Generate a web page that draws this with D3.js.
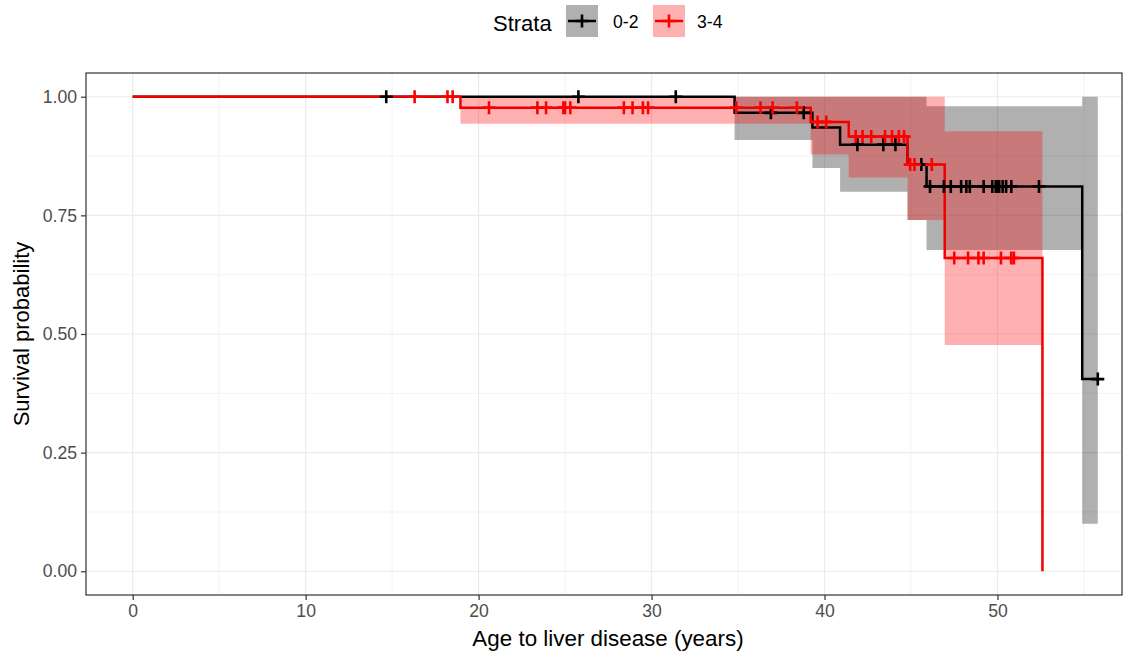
<!DOCTYPE html>
<html>
<head>
<meta charset="utf-8">
<script src="https://cdn.jsdelivr.net/npm/d3@7"></script>
<style>
    body { margin: 0; background: #ffffff; }
    text { font-family: "Liberation Sans", Arial, sans-serif; }
</style>
</head>
<body>
<div class="kmDiv"></div>
<script>
"use strict"

// strata
var strataNames = ["0-2", "3-4"];
var strataColors = ["#000000", "#ee0000"];

// stratum 0-2 : step times, survival, confidence band
var timesA = [0, 34.8, 39.3, 40.9, 44.8, 45.9, 54.9];
var survA  = [1, 0.966, 0.935, 0.899, 0.857, 0.811, 0.405];
var upperA = [1, 1, 1, 1, 1, 0.98, 1];
var lowerA = [1, 0.909, 0.85, 0.80, 0.74, 0.677, 0.10];
var lastA  = 55.8;
var censorA = [14.66, 25.77, 31.4, 36.9, 38.8, 41.9, 43.4, 44.1, 45.6, 46.1, 46.9, 47.3, 47.9,
               48.2, 48.4, 49.2, 49.7, 49.9, 50.0, 50.1, 50.3, 50.5, 50.8, 52.4, 55.8];

// stratum 3-4
var timesB = [0, 18.95, 39.2, 41.4, 44.8, 46.95, 52.6];
var survB  = [1, 0.977, 0.947, 0.916, 0.857, 0.66, 0];
var upperB = [1, 1, 1, 1, 1, 0.927, null];
var lowerB = [1, 0.943, 0.878, 0.83, 0.74, 0.477, null];
var lastB  = 52.6;
var censorB = [16.3, 18.2, 18.5, 20.6, 23.4, 23.9, 24.9, 25.0, 25.3, 28.4, 28.9, 29.5, 29.8,
               34.9, 36.3, 37.0, 38.4, 39.6, 40.1, 41.8, 42.2, 42.7, 43.5, 43.9, 44.3, 44.6,
               44.95, 45.2, 46.2, 47.5, 48.3, 48.9, 49.2, 50.2, 50.8, 50.95];

var xTicks = [0, 10, 20, 30, 40, 50];
var xMinor = [5, 15, 25, 35, 45, 55];
var yTicks = [0, 0.25, 0.5, 0.75, 1];
var yMinor = [0.125, 0.375, 0.625, 0.875];

var width = 1130;
var height = 659;
var panel = {left: 86, top: 73, right: 1122, bottom: 595};
var lineW = 2.5;
var plusR = 6.5;

var svgContainer = d3.select(".kmDiv").append("svg")
                        .attr("width", width)
                        .attr("height", height);

var x = d3.scaleLinear().domain([-2.7, 57.2]).range([panel.left, panel.right]);
var y = d3.scaleLinear().domain([-0.05, 1.05]).range([panel.bottom, panel.top]);

// grid
var grid = svgContainer.append("g").attr("class", "grid");
grid.selectAll(".xMinor").data(xMinor).enter().append("line")
    .attr("x1", d => x(d)).attr("x2", d => x(d))
    .attr("y1", panel.top).attr("y2", panel.bottom)
    .attr("stroke", "#ebebeb").attr("stroke-width", 0.6);
grid.selectAll(".yMinor").data(yMinor).enter().append("line")
    .attr("y1", d => y(d)).attr("y2", d => y(d))
    .attr("x1", panel.left).attr("x2", panel.right)
    .attr("stroke", "#ebebeb").attr("stroke-width", 0.6);
grid.selectAll(".xMajor").data(xTicks).enter().append("line")
    .attr("x1", d => x(d)).attr("x2", d => x(d))
    .attr("y1", panel.top).attr("y2", panel.bottom)
    .attr("stroke", "#ebebeb").attr("stroke-width", 1.2);
grid.selectAll(".yMajor").data(yTicks).enter().append("line")
    .attr("y1", d => y(d)).attr("y2", d => y(d))
    .attr("x1", panel.left).attr("x2", panel.right)
    .attr("stroke", "#ebebeb").attr("stroke-width", 1.2);

// build the strata
function makeStratum(times, surv, upper, lower, last)
{
    var pts = times.map(function(t, i) { return {t: t, s: surv[i], hi: upper[i], lo: lower[i]} });
    var line = pts.slice();
    if (last > times[times.length - 1])
        line.push({t: last, s: surv[surv.length - 1]});
    var band = pts.filter(function(p) { return p.hi != null });
    var lastBand = band[band.length - 1];
    band.push({t: last, hi: lastBand.hi, lo: lastBand.lo});
    return {line: line, band: band, times: times, surv: surv};
}

var strata = [
    makeStratum(timesA, survA, upperA, lowerA, lastA),
    makeStratum(timesB, survB, upperB, lowerB, lastB)
];
var censors = [censorA, censorB];
var fills = ["#000000", "#ff0000"];

function survAt(st, t)
{
    var i = d3.bisectRight(st.times, t) - 1;
    return st.surv[i];
}

var area = d3.area().curve(d3.curveStepAfter)
                .x(d => x(d.t)).y0(d => y(d.lo)).y1(d => y(d.hi));
var stepLine = d3.line().curve(d3.curveStepAfter)
                .x(d => x(d.t)).y(d => y(d.s));

var plotG = svgContainer.append("g").attr("class", "km");

strata.forEach(function(st, i)
{
    plotG.append("path")
        .attr("d", area(st.band))
        .attr("fill", fills[i])
        .attr("fill-opacity", 0.31);
});

strata.forEach(function(st, i)
{
    plotG.append("path")
        .attr("d", stepLine(st.line))
        .attr("fill", "none")
        .attr("stroke", strataColors[i])
        .attr("stroke-width", lineW);
});

function plusPath(cx, cy, r)
{
    return "M" + (cx - r) + "," + cy + "H" + (cx + r) + "M" + cx + "," + (cy - r) + "V" + (cy + r);
}

strata.forEach(function(st, i)
{
    plotG.selectAll(".censor" + i)
        .data(censors[i])
        .enter()
        .append("path")
        .attr("class", "censor" + i)
        .attr("d", function(t) { return plusPath(x(t), y(survAt(st, t)), plusR) })
        .attr("stroke", i == 0 ? "#000000" : "#ff0000")
        .attr("stroke-width", 2.6)
        .attr("fill", "none");
});

// panel border
svgContainer.append("rect")
    .attr("x", panel.left).attr("y", panel.top)
    .attr("width", panel.right - panel.left).attr("height", panel.bottom - panel.top)
    .attr("fill", "none").attr("stroke", "#333333").attr("stroke-width", 1.2);

// axes
var xAxis = svgContainer.append("g")
    .attr("transform", "translate(0," + panel.bottom + ")")
    .call(d3.axisBottom(x).tickValues(xTicks).tickSize(5).tickPadding(5).tickFormat(d3.format("d")));
var yAxis = svgContainer.append("g")
    .attr("transform", "translate(" + panel.left + ",0)")
    .call(d3.axisLeft(y).tickValues(yTicks).tickSize(5).tickPadding(4).tickFormat(d3.format(".2f")));

[xAxis, yAxis].forEach(function(ax)
{
    ax.select(".domain").remove();
    ax.selectAll(".tick line").attr("stroke", "#333333").attr("stroke-width", 1.2);
    ax.selectAll(".tick text").attr("fill", "#4d4d4d").attr("font-size", 17.6)
        .attr("font-family", "Liberation Sans, Arial, sans-serif");
});

svgContainer.append("text")
    .text("Age to liver disease (years)")
    .attr("x", (panel.left + panel.right) / 2 + 4)
    .attr("y", 646)
    .attr("text-anchor", "middle")
    .attr("font-size", 22.4)
    .attr("fill", "#000000");

svgContainer.append("text")
    .text("Survival probability")
    .attr("transform", "translate(29," + ((panel.top + panel.bottom) / 2) + ") rotate(-90)")
    .attr("text-anchor", "middle")
    .attr("font-size", 22)
    .attr("fill", "#000000");

// legend
var legend = svgContainer.append("g").attr("class", "legend");
legend.append("text").text("Strata")
    .attr("x", 493).attr("y", 31)
    .attr("font-size", 22).attr("fill", "#000000");

var keyX = [566, 653];
var labelX = [613, 697];
strataNames.forEach(function(name, i)
{
    var kx = keyX[i];
    legend.append("rect")
        .attr("x", kx).attr("y", 5).attr("width", 32).attr("height", 32)
        .attr("fill", fills[i]).attr("fill-opacity", 0.31);
    legend.append("line")
        .attr("x1", kx + 2).attr("x2", kx + 30).attr("y1", 21).attr("y2", 21)
        .attr("stroke", strataColors[i]).attr("stroke-width", lineW);
    legend.append("path")
        .attr("d", plusPath(kx + 16, 21, plusR))
        .attr("stroke", i == 0 ? "#000000" : "#ff0000").attr("stroke-width", 2.6);
    legend.append("text").text(name)
        .attr("x", labelX[i]).attr("y", 28)
        .attr("font-size", 17.6).attr("fill", "#000000");
});
</script>
</body>
</html>
